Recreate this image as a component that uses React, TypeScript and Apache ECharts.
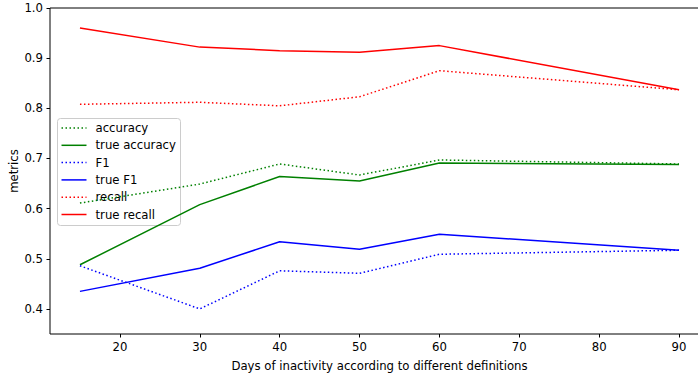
import React, { useEffect, useRef } from "react";
import * as echarts from "echarts";

const days = [15, 30, 40, 50, 60, 90];
const accuracy = [0.611, 0.649, 0.689, 0.667, 0.697, 0.689];
const trueAccuracy = [0.488, 0.608, 0.664, 0.655, 0.691, 0.688];
const f1 = [0.486, 0.4, 0.476, 0.471, 0.509, 0.517];
const trueF1 = [0.435, 0.481, 0.534, 0.519, 0.549, 0.517];
const recall = [0.808, 0.812, 0.805, 0.823, 0.875, 0.837];
const trueRecall = [0.96, 0.922, 0.915, 0.912, 0.925, 0.837];

const seriesNames = ["accuracy", "true accuracy", "F1", "true F1", "recall", "true recall"];
const seriesValues = [accuracy, trueAccuracy, f1, trueF1, recall, trueRecall];
const seriesColors = ["#008000", "#008000", "#0000ff", "#0000ff", "#ff0000", "#ff0000"];
const seriesDotted = [true, false, true, false, true, false];

const xTicks = [20, 30, 40, 50, 60, 70, 80, 90];
const yTicks = [0.4, 0.5, 0.6, 0.7, 0.8, 0.9, 1.0];

const FONT = "DejaVu Sans";
const FS = 11.7;
const DOT = [1.5, 2.5];

function legendGraphic() {
  const left = 57;
  const top = 118;
  const children: any[] = [
    {
      type: "rect",
      shape: { x: 0, y: 0, width: 123, height: 107, r: 3 },
      style: { fill: "rgba(255,255,255,0.8)", stroke: "#cccccc", lineWidth: 1 },
    },
  ];
  seriesNames.forEach((name, i) => {
    const cy = 9.5 + i * 17.3;
    children.push({
      type: "line",
      shape: { x1: 4, y1: cy, x2: 29, y2: cy },
      style: {
        stroke: seriesColors[i],
        lineWidth: 1.5,
        lineDash: seriesDotted[i] ? DOT : null,
      },
    });
    children.push({
      type: "text",
      style: {
        text: name,
        x: 38,
        y: cy,
        fontSize: FS,
        fontFamily: FONT,
        fill: "#000",
        verticalAlign: "middle",
      },
    });
  });
  return { type: "group", left, top, z: 100, children };
}

export default function App() {
  const ref = useRef<HTMLDivElement>(null);
  useEffect(() => {
    if (!ref.current) return;
    const chart = echarts.init(ref.current, null, { renderer: "svg" });
    chart.setOption({
      animation: false,
      backgroundColor: "#ffffff",
      textStyle: { fontFamily: FONT },
      grid: {
        left: 50,
        top: 8,
        width: 659,
        height: 326,
        containLabel: false,
        outerBoundsMode: "none",
        show: true,
        borderColor: "#000",
        borderWidth: 1,
        backgroundColor: "transparent",
      },
      xAxis: {
        type: "value",
        min: 11.25,
        max: 93.75,
        name: "Days of inactivity according to different definitions",
        nameLocation: "middle",
        nameGap: 26,
        nameTextStyle: { fontFamily: FONT, fontSize: FS, color: "#000" },
        axisLine: { show: false },
        axisTick: { show: true, length: 3.5, lineStyle: { color: "#000" }, customValues: xTicks },
        axisLabel: { fontFamily: FONT, fontSize: FS, color: "#000", margin: 7, customValues: xTicks },
        splitLine: { show: false },
      },
      yAxis: {
        type: "value",
        min: 0.35,
        max: 1.0,
        name: "metrics",
        nameLocation: "middle",
        nameRotate: 90,
        nameGap: 30,
        nameMoveOverlap: false,
        nameTextStyle: { fontFamily: FONT, fontSize: FS, color: "#000" },
        axisLine: { show: false },
        axisTick: { show: true, length: 3.5, lineStyle: { color: "#000" }, customValues: yTicks },
        axisLabel: {
          fontFamily: FONT,
          fontSize: FS,
          color: "#000",
          margin: 7,
          customValues: yTicks,
          formatter: (v: number) => v.toFixed(1),
        },
        splitLine: { show: false },
      },
      graphic: [legendGraphic()],
      series: seriesNames.map((name, k) => ({
        name,
        type: "line",
        data: days.map((d, i) => [d, seriesValues[k][i]]),
        symbol: "none",
        lineStyle: {
          color: seriesColors[k],
          width: 1.5,
          type: seriesDotted[k] ? DOT : "solid",
          cap: "butt",
        },
        itemStyle: { color: seriesColors[k] },
        z: 2,
      })),
    });
    return () => chart.dispose();
  }, []);
  return <div ref={ref} style={{ width: 698, height: 375, position: "absolute", left: 0, top: 0 }} />;
}
